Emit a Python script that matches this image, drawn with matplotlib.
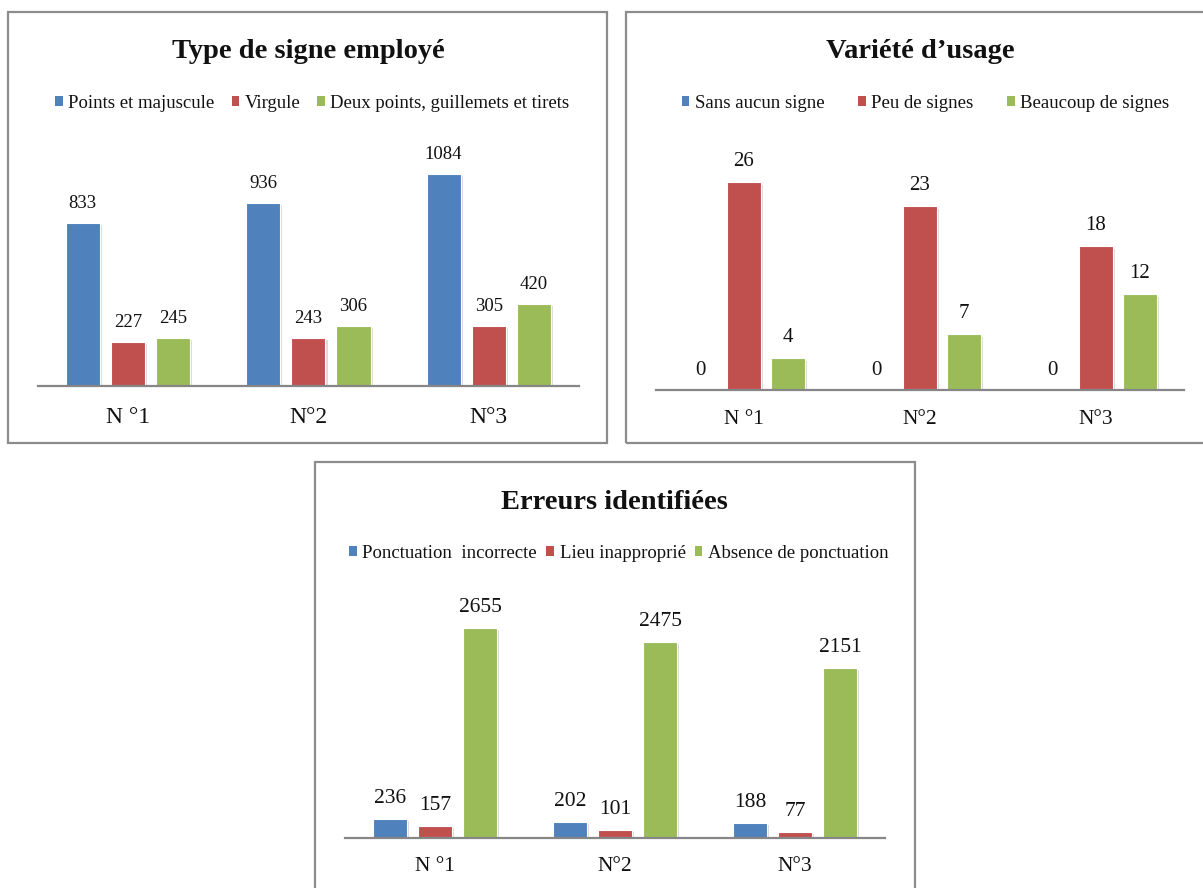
import matplotlib
matplotlib.use("Agg")
import matplotlib.pyplot as plt
from matplotlib.patches import Rectangle
from matplotlib import patheffects as pe
import numpy as np

# ---------------- data ----------------
categories = ["N °1", "N°2", "N°3"]

sign_titles = "Type de signe employé"
sign_series = ["Points et majuscule", "Virgule", "Deux points, guillemets et tirets"]
points_majuscule = [833, 936, 1084]
virgule = [227, 243, 305]
deux_points = [245, 306, 420]

usage_title = "Variété d’usage"
usage_series = ["Sans aucun signe", "Peu de signes", "Beaucoup de signes"]
sans_signe = [0, 0, 0]
peu_signes = [26, 23, 18]
beaucoup_signes = [4, 7, 12]

errors_title = "Erreurs identifiées"
errors_series = ["Ponctuation  incorrecte", "Lieu inapproprié", "Absence de ponctuation"]
ponct_incorrecte = [236, 202, 188]
lieu_inapproprie = [157, 101, 77]
absence_ponct = [2655, 2475, 2151]

colors = ["#4F81BD", "#C0504D", "#9BBB59"]

# ---------------- layout ----------------
W, H = 1203, 888
plt.rcParams['font.family'] = ['Liberation Serif', 'DejaVu Serif']
fig = plt.figure(figsize=(W / 100, H / 100), dpi=100)
fig.patch.set_facecolor("white")


def fx(x):
    return x / W


def fy(y):
    return 1 - y / H


def box(x0, y0, x1, y1):
    r = Rectangle((fx(x0), fy(y1)), (x1 - x0) / W, (y1 - y0) / H,
                  transform=fig.transFigure, fill=False,
                  edgecolor="#8c8c8c", linewidth=1.6, zorder=0)
    fig.patches.append(r)


def panel(x0, x1, ybase, ytop, ymax, series_vals, series_names, title,
          title_xy, legend_xy, colspacing, cat_size, val_size, val_off, cat_off):
    ax = fig.add_axes([fx(x0), fy(ybase), (x1 - x0) / W, (ybase - ytop) / H])
    ax.set_xlim(-0.5, 2.5)
    ax.set_ylim(0, ymax)
    x = np.arange(len(categories))
    handles = []
    for i, (vals, name) in enumerate(zip(series_vals, series_names)):
        pos = x + (i - 1) * 0.25
        bars = ax.bar(pos, vals, width=0.19, color=colors[i],
                      edgecolor="white", linewidth=0.8, label=name, zorder=3)
        for b, v in zip(bars, vals):
            if v > 0:
                b.set_path_effects([pe.SimplePatchShadow(offset=(1.5, -1.5),
                                                         shadow_rgbFace="#999999",
                                                         alpha=0.35),
                                    pe.Normal()])
            ax.annotate(str(v), xy=(b.get_x() + b.get_width() / 2, v),
                        xytext=(0, val_off), textcoords="offset pixels",
                        ha="center", va="baseline", fontsize=val_size,
                        color="#111111")
        handles.append(bars)
    for sp in ["top", "left", "right"]:
        ax.spines[sp].set_visible(False)
    ax.spines["bottom"].set_color("#868686")
    ax.spines["bottom"].set_linewidth(1.6)
    ax.spines["bottom"].set_zorder(4)
    ax.set_yticks([])
    ax.set_xticks([])
    for xi, c in zip(x, categories):
        ax.annotate(c, xy=(xi, 0), xytext=(0, -cat_off), textcoords="offset pixels",
                    ha="center", va="baseline", fontsize=cat_size, color="#111111")
    ax.patch.set_alpha(0)
    fig.text(fx(title_xy[0]), fy(title_xy[1]), title, ha="center", va="baseline",
             fontsize=20.5, fontweight="bold", color="#111111")
    leg = ax.legend(handles, series_names, loc="center",
                    bbox_to_anchor=(fx(legend_xy[0]), fy(legend_xy[1])),
                    bbox_transform=fig.transFigure, ncol=3, frameon=False,
                    fontsize=13.5, handlelength=0.4, handleheight=0.4,
                    handletextpad=0.3, columnspacing=colspacing,
                    borderpad=0, borderaxespad=0)
    for h in leg.legend_handles:
        h.set_path_effects([])
        h.set_edgecolor("none")
    for t in leg.get_texts():
        t.set_color("#111111")
    return ax


# borders
box(8, 12, 607, 443)
box(626, 12, 1215, 443)
box(315, 462, 915, 900)

panel(37.6, 579, 386, 150, (386 - 150) / 0.196,
      [points_majuscule, virgule, deux_points], sign_series, sign_titles,
      (308, 58), (312.5, 103), 0.9, 17, 13.5, 15, 37)

panel(656, 1184, 390.5, 150, (390.5 - 150) / 8.0,
      [sans_signe, peu_signes, beaucoup_signes], usage_series, usage_title,
      (920, 58), (925.5, 103), 1.8, 15.5, 15, 16, 33)

panel(345, 885, 838, 590, (838 - 590) / 0.0792,
      [ponct_incorrecte, lieu_inapproprie, absence_ponct], errors_series,
      errors_title, (614, 509), (619, 553), 0.5, 15.5, 15.5, 16, 33)

fig.savefig("out.png", dpi=100, facecolor="white")
